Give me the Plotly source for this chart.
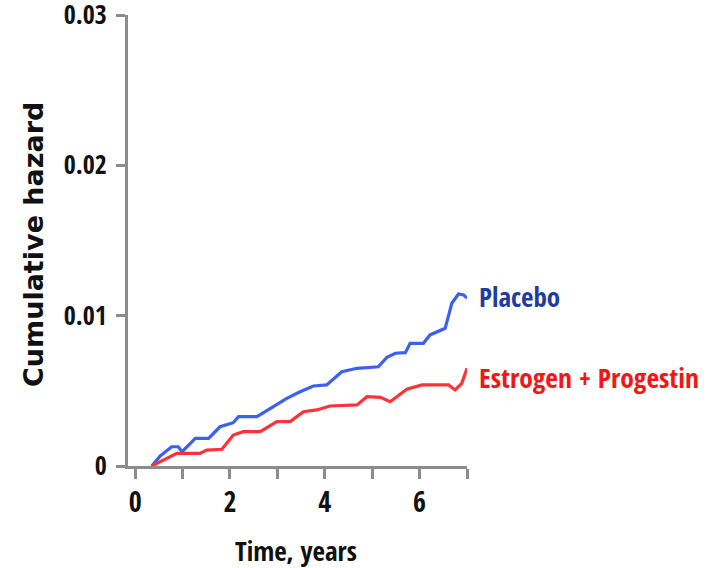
import plotly.graph_objects as go

# Data (years, cumulative hazard)
placebo_t = [0.35, 0.53, 0.77, 0.91, 0.99, 1.27, 1.55, 1.79, 2.07, 2.18, 2.57, 2.99, 3.20, 3.48,
             3.76, 4.04, 4.36, 4.68, 5.13, 5.31, 5.49, 5.70, 5.80, 6.08, 6.22, 6.54, 6.68, 6.82,
             6.93, 7.00]
placebo_h = [0.0, 0.00067, 0.00128, 0.00128, 0.00095, 0.00184, 0.00184, 0.00261, 0.00288, 0.00328,
             0.00328, 0.00406, 0.00450, 0.00494, 0.00532, 0.00539, 0.00627, 0.00650, 0.00660,
             0.00723, 0.00750, 0.00754, 0.00816, 0.00816, 0.00872, 0.00916, 0.01083, 0.01144,
             0.01138, 0.01116]

ep_t = [0.35, 0.88, 1.37, 1.51, 1.83, 2.07, 2.28, 2.64, 2.99, 3.27, 3.55, 3.83, 4.11, 4.68,
        4.89, 5.17, 5.38, 5.73, 6.05, 6.61, 6.75, 6.89, 7.00]
ep_h = [0.0, 0.00084, 0.00084, 0.00106, 0.00111, 0.00206, 0.00228, 0.00228, 0.00295, 0.00295,
        0.00361, 0.00373, 0.00399, 0.00406, 0.00461, 0.00457, 0.00428, 0.00510, 0.00539,
        0.00539, 0.00506, 0.00550, 0.00650]

x_ticks = [0, 1, 2, 3, 4, 5, 6, 7]
x_ticktext = ["0", "", "2", "", "4", "", "6", ""]
y_ticks = [0, 0.01, 0.02, 0.03]
y_ticktext = ["0", "0.01", "0.02", "0.03"]

NARROW = "Open Sans Condensed, Roboto Condensed, sans-serif"
WIDE = "DejaVu Sans, Verdana, sans-serif"
AXIS = "#8c8c8c"

W, H = 714, 568
L, T = 128, 15
pw, ph = 339, 451
R, B = W - L - pw, H - T - ph


def px_x(x):
    return (x - L) / pw


def px_y(y):
    return (H - B - y) / ph


fig = go.Figure()
fig.add_trace(go.Scatter(x=placebo_t, y=placebo_h, mode="lines",
                         line=dict(color="rgb(60,95,245)", width=3.2), cliponaxis=False,
                         showlegend=False))
fig.add_trace(go.Scatter(x=ep_t, y=ep_h, mode="lines",
                         line=dict(color="rgb(255,50,55)", width=3.2), cliponaxis=False,
                         showlegend=False))

fig.update_layout(
    width=W, height=H,
    margin=dict(l=L, r=R, t=T, b=B),
    paper_bgcolor="white", plot_bgcolor="white",
    showlegend=False,
    xaxis=dict(range=[-0.15, 7], tickvals=x_ticks, ticktext=x_ticktext, automargin=False,
               showgrid=False, zeroline=False, showline=True, linecolor=AXIS, linewidth=3,
               ticks="outside", ticklen=10, tickwidth=3, tickcolor=AXIS,
               ticklabeloverflow="allow", ticklabelstandoff=-1,
               tickfont=dict(family=NARROW, size=28, color="#111111", weight="bold")),
    yaxis=dict(range=[0, 0.03], tickvals=y_ticks, ticktext=y_ticktext, automargin=False,
               showgrid=False, zeroline=False, showline=True, linecolor=AXIS, linewidth=3,
               ticks="outside", ticklen=9, tickwidth=3, tickcolor=AXIS,
               ticklabeloverflow="allow", ticklabelstandoff=4,
               tickfont=dict(family=NARROW, size=26, color="#111111", weight="bold")),
    annotations=[
        dict(text="Placebo", x=px_x(477), y=px_y(296), xref="paper", yref="paper",
             xanchor="left", yanchor="middle", showarrow=False,
             font=dict(family=NARROW, size=27, color="#1f3c9e", weight="bold")),
        dict(text="Estrogen + Progestin", x=px_x(477), y=px_y(377), xref="paper", yref="paper",
             xanchor="left", yanchor="middle", showarrow=False,
             font=dict(family=NARROW, size=27.5, color="#f51515", weight="bold")),
        dict(text="Time, years", x=px_x(296), y=px_y(550), xref="paper", yref="paper",
             xanchor="center", yanchor="middle", showarrow=False,
             font=dict(family=NARROW, size=27, color="#111111", weight="bold")),
        dict(text="Cumulative hazard", x=px_x(33), y=px_y(245), xref="paper", yref="paper",
             xanchor="center", yanchor="middle", textangle=-90, showarrow=False,
             font=dict(family=WIDE, size=27, color="#111111", weight="bold")),
    ],
)

# remove the default 8px page margin so the figure fills the window exactly
fig.write_html("out.html", config={"displayModeBar": False},
               post_script="document.body.style.margin='0px';")
